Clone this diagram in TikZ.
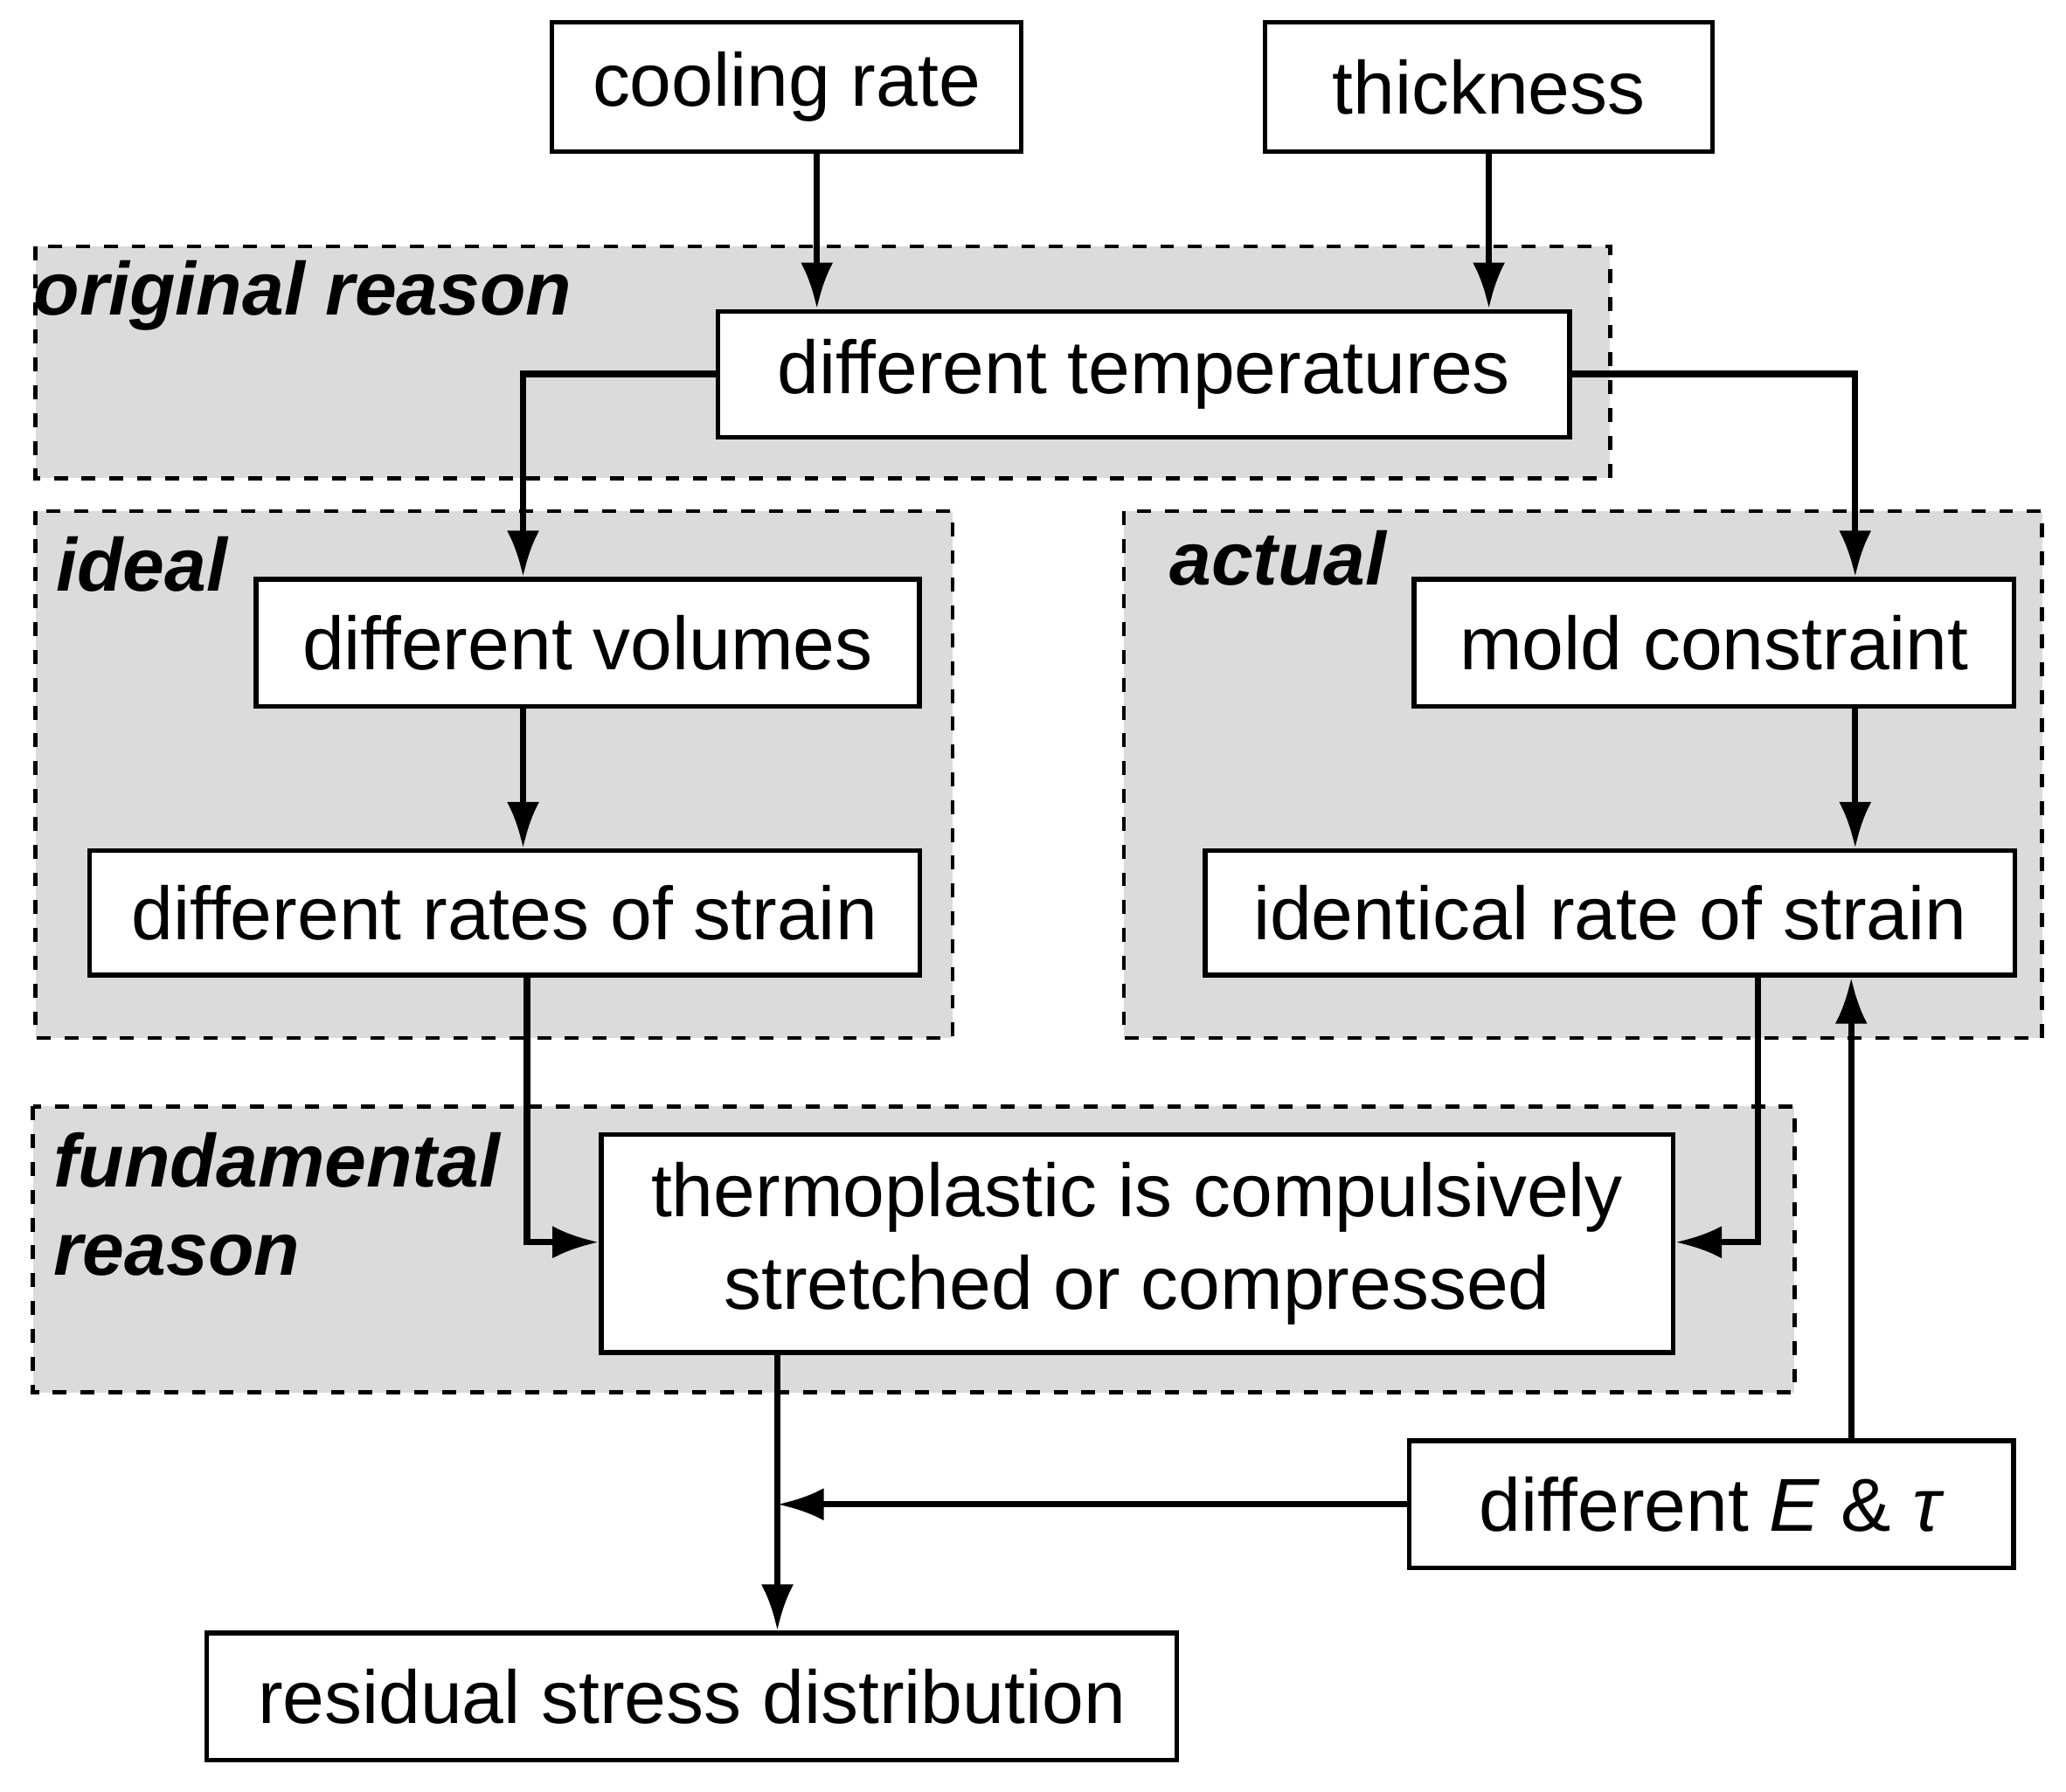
\documentclass[tikz,border=0pt]{standalone}
\usepackage{fontspec}
\setmainfont{Liberation Sans}
\usetikzlibrary{arrows.meta}
\begin{document}
\begin{tikzpicture}[x=0.01cm,y=-0.01cm,
  box/.style={draw,line width=1pt,fill=white,inner sep=0pt,font=\fontsize{16.2}{20}\selectfont},
  region/.style={draw,dashed,line width=0.9pt,fill=black!14},
  lab/.style={font=\fontsize{16.2}{19}\selectfont\bfseries\itshape,anchor=north west,inner sep=0pt,align=left},
  arr/.style={-{Latex[length=10pt,width=7pt]},line width=1.4pt}]
\useasboundingbox (0,0) rectangle (1568,1360);
\draw[region] (27,187) rectangle (1222,363);
\draw[region] (27,388) rectangle (723,788);
\draw[region] (853,388) rectangle (1550,788);
\draw[region] (25,840) rectangle (1362,1057);
\node[lab] (l1) at (25,197) {original reason};
\node[lab] (l2) at (42,407) {ideal};
\node[lab] (l3) at (887,402) {actual};
\node[lab] (l4) at (40,859) {fundamental\\reason};
\newcommand\bx[6]{\node[box,minimum width=#4*0.01cm-1pt,minimum height=#5*0.01cm-1pt,align=center] (#1) at (#2,#3) {#6};}
\bx{cr}{597}{66}{360}{102}{cooling rate}
\bx{th}{1130}{66}{343}{102}{thickness}
\bx{dt}{868}{284}{650}{99}{different temperatures}
\bx{dv}{446}{488}{507}{100}{different volumes}
\bx{dr}{383}{693}{634}{98}{different rates of strain}
\bx{mc}{1301}{488}{459}{100}{mold constraint}
\bx{ir}{1222}{693}{618}{98}{identical rate of strain}
\bx{tp}{863}{944}{817}{169}{thermoplastic is compulsively\\stretched or compressed}
\bx{et}{1299}{1142}{462}{100}{different \textit{E} \& \textit{τ}}
\bx{rs}{525}{1288}{740}{100}{residual stress distribution}
\coordinate (j) at (590,1142);
\draw[arr] (cr.south -| 620,0) -- (dt.north -| 620,0);
\draw[arr] (th.south) -- (dt.north -| th.south);
\draw[arr] (dt.west) -| (dv.north -| 397,0);
\draw[arr] (dt.east) -| (mc.north -| 1408,0);
\draw[arr] (dv.south -| 397,0) -- (dr.north -| 397,0);
\draw[arr] (mc.south -| 1408,0) -- (ir.north -| 1408,0);
\draw[arr] (dr.south -| 400,0) |- (tp.west |- 0,943);
\draw[arr] (ir.south -| 1334,0) |- (tp.east |- 0,943);
\draw[arr] (et.north -| 1405,0) -- (ir.south -| 1405,0);
\draw[arr] (et.west) -- (j);
\draw[arr] (tp.south -| 590,0) -- (rs.north -| 590,0);
\end{tikzpicture}
\end{document}
